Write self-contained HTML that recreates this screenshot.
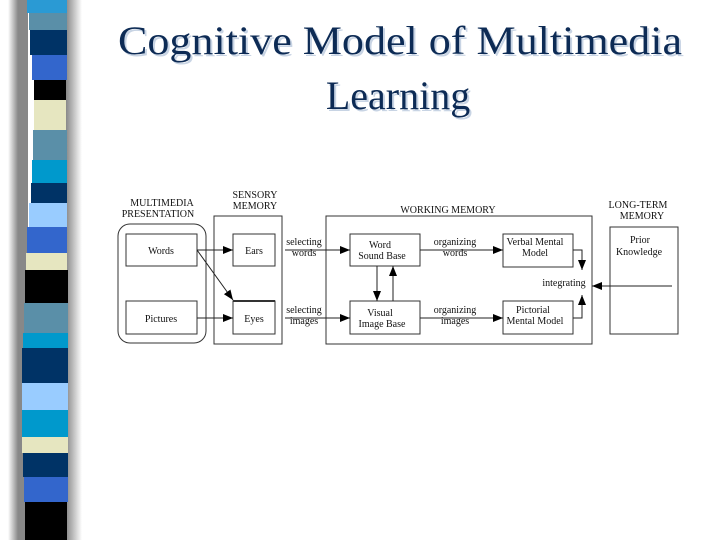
<!DOCTYPE html>
<html><head><meta charset="utf-8"><style>
html,body{margin:0;padding:0;background:#fff;width:720px;height:540px;overflow:hidden}
svg text{font-family:"Liberation Serif",serif}
</style></head><body>
<svg width="720" height="540" viewBox="0 0 720 540" xmlns="http://www.w3.org/2000/svg">
<defs>
<linearGradient id="sh" x1="0" x2="1">
<stop offset="0" stop-color="#fff"/><stop offset="0.5" stop-color="#888"/><stop offset="1" stop-color="#888"/>
</linearGradient>
<linearGradient id="sh2" x1="0" x2="1">
<stop offset="0" stop-color="#888"/><stop offset="1" stop-color="#fff"/>
</linearGradient>
<marker id="a" markerWidth="10" markerHeight="8" refX="10" refY="4" orient="auto" markerUnits="userSpaceOnUse">
<path d="M0,0 L10,4 L0,8 Z" fill="#000"/></marker>
</defs>
<rect x="8" y="0" width="20" height="540" fill="url(#sh)"/>
<rect x="66" y="0" width="16" height="540" fill="url(#sh2)"/>
<g>
<rect x="27" y="0" width="40" height="13" fill="#2a9ad4"/>
<rect x="29" y="13" width="38" height="17" fill="#5a8fa8"/>
<rect x="30" y="30" width="37" height="25" fill="#003366"/>
<rect x="32" y="55" width="35" height="25" fill="#3366cc"/>
<rect x="34" y="80" width="32" height="20" fill="#000"/>
<rect x="34" y="100" width="32" height="30" fill="#e6e6c0"/>
<rect x="33" y="130" width="34" height="30" fill="#5a8fa8"/>
<rect x="32" y="160" width="35" height="23" fill="#0099cc"/>
<rect x="31" y="183" width="36" height="20" fill="#003366"/>
<rect x="29" y="203" width="38" height="24" fill="#99ccff"/>
<rect x="27" y="227" width="40" height="26" fill="#3366cc"/>
<rect x="26" y="253" width="41" height="17" fill="#e6e6c0"/>
<rect x="25" y="270" width="43" height="33" fill="#000"/>
<rect x="24" y="303" width="44" height="30" fill="#5a8fa8"/>
<rect x="23" y="333" width="45" height="15" fill="#0099cc"/>
<rect x="22" y="348" width="46" height="35" fill="#003366"/>
<rect x="22" y="383" width="46" height="27" fill="#99ccff"/>
<rect x="22" y="410" width="46" height="27" fill="#0099cc"/>
<rect x="22" y="437" width="46" height="16" fill="#e6e6c0"/>
<rect x="23" y="453" width="45" height="24" fill="#003366"/>
<rect x="24" y="477" width="44" height="25" fill="#3366cc"/>
<rect x="25" y="502" width="42" height="38" fill="#000"/>
</g>
<g font-size="40" fill="#c8d4e4" text-anchor="middle">
<text x="402" y="56" textLength="564" lengthAdjust="spacingAndGlyphs">Cognitive Model of Multimedia</text>
<text x="400" y="111">Learning</text>
</g>
<g font-size="40" fill="#0d2b55" text-anchor="middle">
<text x="400" y="54" textLength="564" lengthAdjust="spacingAndGlyphs">Cognitive Model of Multimedia</text>
<text x="398" y="109">Learning</text>
</g>
<g fill="none" stroke="#333" stroke-width="1">
<rect x="118" y="224" width="88" height="119" rx="12"/>
<rect x="126" y="234" width="71" height="32"/>
<rect x="126" y="301" width="71" height="33"/>
<rect x="214" y="216" width="68" height="128"/>
<rect x="233" y="234" width="42" height="32"/>
<rect x="233" y="301" width="42" height="33"/>
<rect x="326" y="216" width="266" height="128"/>
<rect x="350" y="234" width="70" height="32"/>
<rect x="350" y="301" width="70" height="33"/>
<rect x="503" y="234" width="70" height="33"/>
<rect x="503" y="301" width="70" height="33"/>
<rect x="610" y="227" width="68" height="107"/>
</g>
<line x1="233" y1="301" x2="275" y2="301" stroke="#333" stroke-width="2"/>
<g stroke="#222" stroke-width="1" fill="none">
<line x1="197" y1="250" x2="233" y2="250" marker-end="url(#a)"/>
<line x1="197" y1="250" x2="233" y2="300" marker-end="url(#a)"/>
<line x1="197" y1="318" x2="233" y2="318" marker-end="url(#a)"/>
<line x1="285" y1="250" x2="350" y2="250" marker-end="url(#a)"/>
<line x1="285" y1="318" x2="350" y2="318" marker-end="url(#a)"/>
<line x1="377" y1="266" x2="377" y2="301" marker-end="url(#a)"/>
<line x1="393" y1="301" x2="393" y2="266" marker-end="url(#a)"/>
<line x1="420" y1="250" x2="503" y2="250" marker-end="url(#a)"/>
<line x1="420" y1="318" x2="503" y2="318" marker-end="url(#a)"/>
<polyline points="573,250 582,250 582,270" marker-end="url(#a)"/>
<polyline points="573,318 582,318 582,295" marker-end="url(#a)"/>
<line x1="672" y1="286" x2="592" y2="286" marker-end="url(#a)"/>
</g>
<g font-size="10" fill="#111" text-anchor="middle">
<text x="162" y="206">MULTIMEDIA</text>
<text x="158" y="217">PRESENTATION</text>
<text x="255" y="198">SENSORY</text>
<text x="255" y="209">MEMORY</text>
<text x="448" y="213">WORKING MEMORY</text>
<text x="638" y="208">LONG-TERM</text>
<text x="642" y="219">MEMORY</text>
<text x="161" y="254">Words</text>
<text x="161" y="322">Pictures</text>
<text x="254" y="254">Ears</text>
<text x="254" y="322">Eyes</text>
<text x="304" y="245">selecting</text>
<text x="304" y="256">words</text>
<text x="304" y="313">selecting</text>
<text x="304" y="324">images</text>
<text x="380" y="248">Word</text>
<text x="382" y="259">Sound Base</text>
<text x="380" y="316">Visual</text>
<text x="382" y="327">Image Base</text>
<text x="455" y="245">organizing</text>
<text x="455" y="256">words</text>
<text x="455" y="313">organizing</text>
<text x="455" y="324">images</text>
<text x="535" y="245">Verbal Mental</text>
<text x="535" y="256">Model</text>
<text x="533" y="313">Pictorial</text>
<text x="535" y="324">Mental Model</text>
<text x="564" y="286">integrating</text>
<text x="640" y="243">Prior</text>
<text x="639" y="255">Knowledge</text>
</g>
</svg>
</body></html>
